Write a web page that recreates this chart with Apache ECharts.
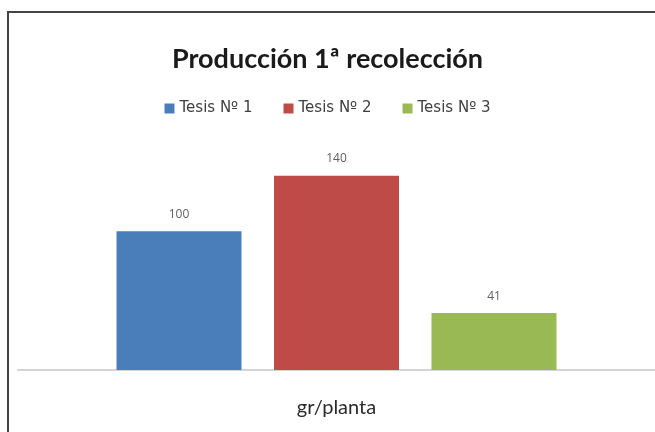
<!DOCTYPE html>
<html>
<head>
	<meta charset="UTF-8">
	<title>Producción 1ª recolección</title>
	<style type="text/css">
		html, body {
			margin: 0;
			padding: 0;
			background: #fff;
		}
		.wrap {
			position: relative;
			width: 655px;
			height: 432px;
		}
		/* marco del gráfico: solo arriba e izquierda */
		.frame {
			position: absolute;
			left: 7px;
			top: 11px;
			right: 0;
			bottom: 0;
			border-left: 2px solid #454545;
			border-top: 2px solid #454545;
			pointer-events: none;
		}
		#echarts {
			position: absolute;
			left: 0;
			top: 0;
			width: 655px;
			height: 432px;
		}
	</style>
</head>
<body>
	<div class="wrap">
		<div id="echarts"></div>
		<div class="frame"></div>
	</div>

	<script type="text/javascript" src="https://cdn.jsdelivr.net/npm/echarts@6/dist/echarts.min.js"></script>
	<script type="text/javascript">
		var categories = ['gr/planta'];
		var seriesNames = ['Tesis Nº 1', 'Tesis Nº 2', 'Tesis Nº 3'];
		var seriesValues = [100, 140, 41];
		var seriesColors = ['#4a7ebb', '#be4b48', '#98b954'];

		var chart = echarts.init(document.getElementById('echarts'));

		var series = [];
		for (var i = 0; i < seriesNames.length; i++) {
			series.push({
				name: seriesNames[i],
				type: 'bar',
				data: [seriesValues[i]],
				barWidth: 125,
				barGap: '26%',
				itemStyle: { color: seriesColors[i] },
				label: {
					show: true,
					position: 'top',
					distance: 11,
					fontFamily: 'Open Sans',
					fontSize: 12,
					color: '#606060'
				}
			});
		}

		var option = {
			animation: false,
			title: {
				text: 'Producción 1ª recolección',
				left: 'center',
				top: 41,
				textStyle: {
					fontFamily: 'Lato',
					fontWeight: 'bold',
					fontSize: 27,
					color: '#1a1a1a'
				}
			},
			legend: {
				data: seriesNames,
				top: 96,
				left: 'center',
				icon: 'rect',
				itemWidth: 10,
				itemHeight: 10,
				itemGap: 31,
				textStyle: {
					fontFamily: 'DejaVu Sans',
					fontSize: 15,
					color: '#404040'
				}
			},
			grid: {
				left: 18,
				right: 0,
				top: 148,
				bottom: 62
			},
			xAxis: {
				type: 'category',
				data: categories,
				axisLine: { lineStyle: { color: '#d4d4d4', width: 2 } },
				axisTick: { show: false },
				axisLabel: {
					margin: 28,
					fontFamily: 'Lato',
					fontSize: 20,
					color: '#2a2a2a'
				}
			},
			yAxis: {
				type: 'value',
				min: 0,
				max: 160,
				show: false,
				splitLine: { show: false }
			},
			series: series
		};

		chart.setOption(option);
	</script>
</body>
</html>
